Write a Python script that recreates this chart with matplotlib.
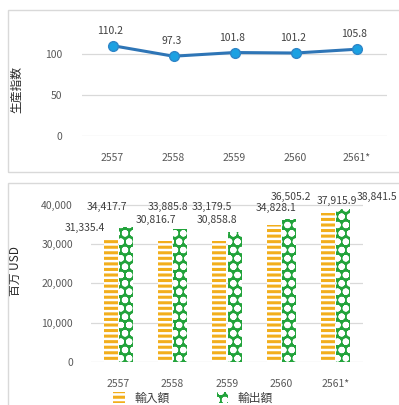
import matplotlib
matplotlib.use("Agg")
import matplotlib.pyplot as plt
from matplotlib.patches import Rectangle
import numpy as np

plt.rcParams['font.family'] = ['Noto Sans CJK JP', 'DejaVu Sans']
plt.rcParams['hatch.linewidth'] = 2.2

years = ['2557', '2558', '2559', '2560', '2561*']
prod_index = [110.2, 97.3, 101.8, 101.2, 105.8]
imports = [31335.4, 30816.7, 30858.8, 34828.1, 37915.9]
exports = [34417.7, 33885.8, 33179.5, 36505.2, 38841.5]

W, H = 399, 405
fig = plt.figure(figsize=(W/100, H/100), dpi=100)

def fx(px): return px / W
def fy(py): return 1 - py / H

# panel borders
for (x0, y0, x1, y1) in [(8, 10, 405, 172), (8, 183, 405, 412)]:
    fig.patches.append(Rectangle((fx(x0), fy(y1)), fx(x1 - x0), (y1 - y0) / H,
                                 transform=fig.transFigure, fill=False,
                                 edgecolor='#D9D9D9', linewidth=1.0))

tick_color = '#595959'
grid_color = '#D9D9D9'

# ---- top: production index
ax1 = fig.add_axes([fx(82), fy(136), fx(387 - 82), (136 - 33.5) / H])
x = np.arange(len(years))
ax1.plot(x, prod_index, color='#2E75B6', linewidth=2.2, marker='o', markersize=7,
         markerfacecolor='#1BA1E2', markeredgecolor='#2E86C8', markeredgewidth=1)
ax1.set_xlim(-0.5, len(years) - 0.5)
ax1.set_ylim(0, 125)
ax1.set_yticks([0, 50, 100])
ax1.set_xticks(x)
ax1.set_xticklabels(years)
ax1.yaxis.grid(True, color=grid_color, linewidth=0.9)
ax1.set_axisbelow(True)
for s in ax1.spines.values():
    s.set_visible(False)
ax1.tick_params(axis='both', length=0, labelsize=7.5, colors=tick_color)
ax1.tick_params(axis='y', pad=14)
ax1.tick_params(axis='x', pad=12)
for xi, v in zip(x, prod_index):
    ax1.annotate(f'{v:.1f}', (xi, v), xytext=(-2, 15), textcoords='offset pixels',
                 ha='center', va='center', fontsize=7.5, color='#404040')
ax1.set_ylabel('生産指数', fontsize=8.5, color='#262626')
ax1.yaxis.set_label_coords(fx(23 - 82) / fx(387 - 82), 0.45)

# ---- bottom: trade values
ax2 = fig.add_axes([fx(91), fy(362), fx(363 - 91), (362 - 197) / H])
bw = 0.26
b1 = ax2.bar(x - bw / 2 - 0.01, imports, width=bw, facecolor='white', edgecolor='#F2AE1C',
             linewidth=0, hatch='---', label='輸入額')
b2 = ax2.bar(x + bw / 2 + 0.01, exports, width=bw, facecolor='#22A33B', edgecolor='white',
             linewidth=0, hatch='oo', label='輸出額')
ax2.set_xlim(-0.5, len(years) - 0.5)
ax2.set_ylim(0, 42000)
ax2.set_yticks([0, 10000, 20000, 30000, 40000])
ax2.set_yticklabels(['0', '10,000', '20,000', '30,000', '40,000'])
ax2.set_xticks(x)
ax2.set_xticklabels(years)
ax2.yaxis.grid(True, color=grid_color, linewidth=0.9)
ax2.set_axisbelow(True)
for s in ax2.spines.values():
    s.set_visible(False)
ax2.tick_params(axis='both', length=0, labelsize=7.5, colors=tick_color)
ax2.tick_params(axis='y', pad=13)
ax2.tick_params(axis='x', pad=12)

imp_off = [(-26, 11), (-9, 21), (-2, 21), (2, 17), (9, 12)]
exp_off = [(-19, 20), (-12, 22), (-23, 25), (2, 22), (34, 12)]
for xi, v, off in zip(x - bw / 2 - 0.01, imports, imp_off):
    ax2.annotate(f'{v:,.1f}', (xi, v), xytext=off, textcoords='offset pixels',
                 ha='center', va='center', fontsize=7.5, color='#404040', annotation_clip=False)
for xi, v, off in zip(x + bw / 2 + 0.01, exports, exp_off):
    ax2.annotate(f'{v:,.1f}', (xi, v), xytext=off, textcoords='offset pixels',
                 ha='center', va='center', fontsize=7.5, color='#404040', annotation_clip=False)
ax2.set_ylabel('百万 USD', fontsize=8.5, color='#262626')
ax2.yaxis.set_label_coords(fx(22 - 91) / fx(363 - 91), 0.55)

fig.legend(handles=[b1, b2], loc='center', bbox_to_anchor=(fx(193), fy(398)), ncol=2,
           frameon=False, fontsize=8.5, labelcolor='#404040', columnspacing=4.0,
           handlelength=1.0, handleheight=1.0, handletextpad=0.8)

fig.savefig('out.png', dpi=100)
